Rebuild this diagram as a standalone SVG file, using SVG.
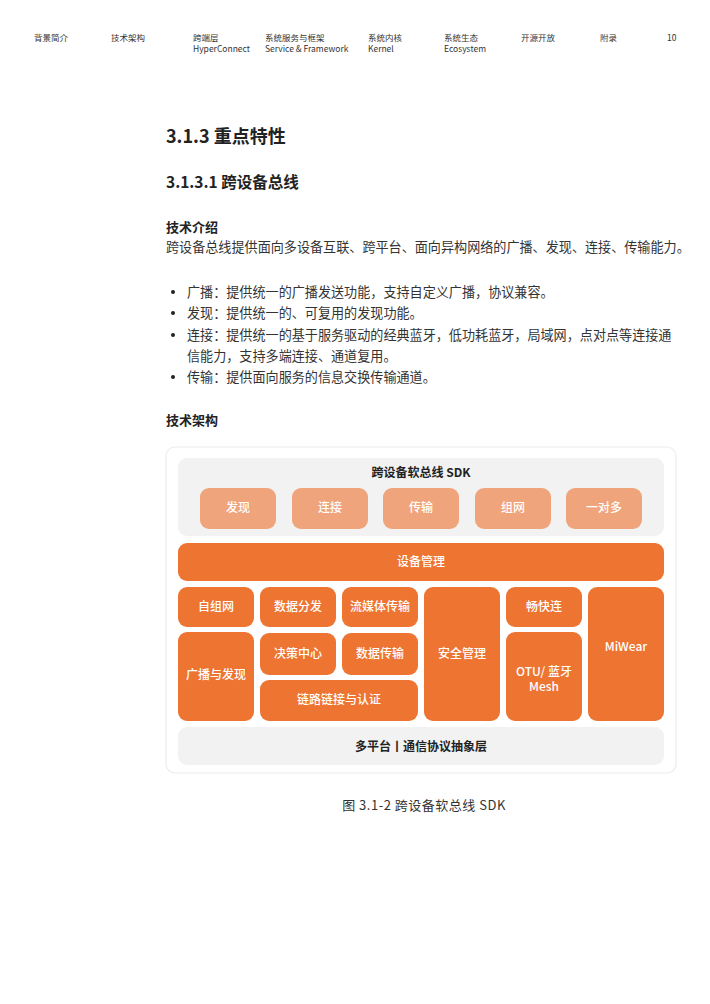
<svg xmlns="http://www.w3.org/2000/svg" width="710" height="1004" viewBox="0 0 710 1004">
<style>
text{font-family:"Noto Sans CJK SC","Noto Sans",sans-serif;fill:#222}
.nav{font-size:8.5px;fill:#333}
.h1{font-size:18px;font-weight:600}
.h2{font-size:15.5px;font-weight:600}
.h3{font-size:13px;font-weight:600}
.p{font-size:13.1px;fill:#333}
.lbl{font-size:12px;font-weight:500;fill:#fff;text-anchor:middle}
.dk{font-size:12px;font-weight:600;fill:#222;text-anchor:middle}
.or{fill:#EE7432}
.lo{fill:#F0A47B}
.gr{fill:#F2F2F2}
.cap{font-size:13px;fill:#333;text-anchor:middle;letter-spacing:0.5px}
</style>
<rect width="710" height="1004" fill="#fff"/>
<g id="nav">
<text class="nav" x="34" y="41">背景简介</text>
<text class="nav" x="111" y="41">技术架构</text>
<text class="nav" x="193" y="41">跨端层</text>
<text class="nav" x="193" y="52">HyperConnect</text>
<text class="nav" x="265" y="41">系统服务与框架</text>
<text class="nav" x="265" y="52">Service &amp; Framework</text>
<text class="nav" x="368" y="41">系统内核</text>
<text class="nav" x="368" y="52">Kernel</text>
<text class="nav" x="444" y="41">系统生态</text>
<text class="nav" x="444" y="52">Ecosystem</text>
<text class="nav" x="521" y="41">开源开放</text>
<text class="nav" x="600" y="41">附录</text>
<text class="nav" x="667" y="41">10</text>
</g>
<g id="body">
<text class="h1" x="166" y="143">3.1.3 重点特性</text>
<text class="h2" x="166" y="188">3.1.3.1 跨设备总线</text>
<text class="h3" x="166" y="232">技术介绍</text>
<text class="p" x="166" y="252">跨设备总线提供面向多设备互联、跨平台、面向异构网络的广播、发现、连接、传输能力。</text>
<circle cx="173" cy="292" r="2" fill="#222"/>
<text class="p" x="187" y="297">广播：提供统一的广播发送功能，支持自定义广播，协议兼容。</text>
<circle cx="173" cy="313" r="2" fill="#222"/>
<text class="p" x="187" y="318">发现：提供统一的、可复用的发现功能。</text>
<circle cx="173" cy="335" r="2" fill="#222"/>
<text class="p" x="187" y="340">连接：提供统一的基于服务驱动的经典蓝牙，低功耗蓝牙，局域网，点对点等连接通</text>
<text class="p" x="187" y="361">信能力，支持多端连接、通道复用。</text>
<circle cx="173" cy="377" r="2" fill="#222"/>
<text class="p" x="187" y="382">传输：提供面向服务的信息交换传输通道。</text>
<text class="h3" x="166" y="425">技术架构</text>
</g>
<rect id="card" x="166" y="447" width="510" height="326" rx="9" fill="#fff" stroke="#ECECEC" stroke-width="1.2"/>
<g id="sdk">
<rect class="gr" x="178" y="458" width="486" height="78" rx="9"/>
<text class="dk" x="421" y="477">跨设备软总线 SDK</text>
</g>
<g id="n-discover"><rect class="lo" x="200" y="488" width="76" height="41" rx="9"/><text class="lbl" x="238" y="512">发现</text></g>
<g id="n-connect"><rect class="lo" x="292" y="488" width="76" height="41" rx="9"/><text class="lbl" x="330" y="512">连接</text></g>
<g id="n-transfer"><rect class="lo" x="383" y="488" width="76" height="41" rx="9"/><text class="lbl" x="421" y="512">传输</text></g>
<g id="n-network"><rect class="lo" x="475" y="488" width="76" height="41" rx="9"/><text class="lbl" x="513" y="512">组网</text></g>
<g id="n-onemany"><rect class="lo" x="566" y="488" width="76" height="41" rx="9"/><text class="lbl" x="604" y="512">一对多</text></g>
<g id="n-devmgr"><rect class="or" x="178" y="543" width="486" height="38" rx="9"/><text class="lbl" x="421" y="566">设备管理</text></g>
<g id="n-adhoc"><rect class="or" x="178" y="587" width="76" height="40" rx="9"/><text class="lbl" x="216" y="611">自组网</text></g>
<g id="n-datadist"><rect class="or" x="260" y="587" width="76" height="40" rx="9"/><text class="lbl" x="298" y="611">数据分发</text></g>
<g id="n-stream"><rect class="or" x="342" y="587" width="76" height="40" rx="9"/><text class="lbl" x="380" y="611">流媒体传输</text></g>
<g id="n-security"><rect class="or" x="424" y="587" width="76" height="134" rx="9"/><text class="lbl" x="462" y="658">安全管理</text></g>
<g id="n-fast"><rect class="or" x="506" y="587" width="76" height="40" rx="9"/><text class="lbl" x="544" y="611">畅快连</text></g>
<g id="n-miwear"><rect class="or" x="588" y="587" width="76" height="134" rx="9"/><text class="lbl" x="626" y="651">MiWear</text></g>
<g id="n-broadcast"><rect class="or" x="178" y="632" width="76" height="89" rx="9"/><text class="lbl" x="216" y="679">广播与发现</text></g>
<g id="n-decision"><rect class="or" x="260" y="633" width="76" height="42" rx="9"/><text class="lbl" x="298" y="658">决策中心</text></g>
<g id="n-datatx"><rect class="or" x="342" y="633" width="76" height="42" rx="9"/><text class="lbl" x="380" y="658">数据传输</text></g>
<g id="n-link"><rect class="or" x="260" y="680" width="158" height="41" rx="9"/><text class="lbl" x="339" y="704">链路链接与认证</text></g>
<g id="n-otu"><rect class="or" x="506" y="632" width="76" height="89" rx="9"/><text class="lbl" x="544" y="676">OTU/ 蓝牙</text><text class="lbl" x="544" y="691">Mesh</text></g>
<g id="n-platform"><rect class="gr" x="178" y="727" width="486" height="38" rx="9"/><text class="dk" x="421" y="751">多平台丨通信协议抽象层</text></g>
<g id="connectors"></g>
<text class="cap" x="424" y="810">图 3.1-2 跨设备软总线 SDK</text>
</svg>
